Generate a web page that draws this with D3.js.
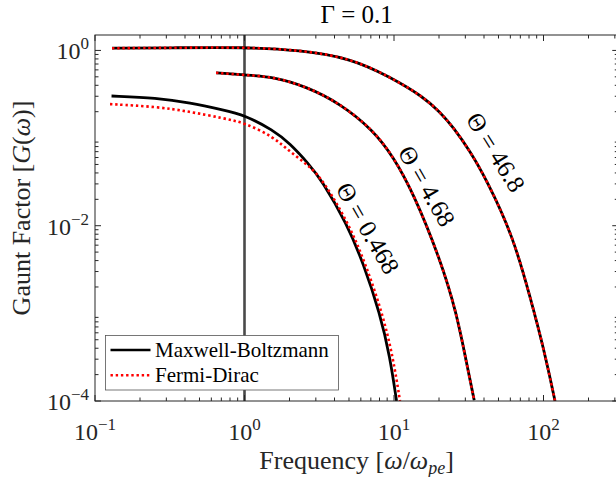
<!DOCTYPE html>
<html>
<head>
<meta charset="utf-8">
<script src="https://cdn.jsdelivr.net/npm/d3@7"></script>
<style>
  body { margin: 0; background: #fff; }
  svg { display: block; font-family: "Liberation Serif", "DejaVu Serif", serif; }
</style>
</head>
<body>
<div id="chart"></div>
<script>
// values (frequency in units of w_pe, Gaunt factor)
var freq_0468_mb  = [0.129, 0.259, 0.432, 0.721, 1.0, 1.56, 2.01, 2.67, 3.28, 4.83, 6.24, 8.06, 9.40, 10.4];
var gaunt_0468_mb = [0.302, 0.288, 0.253, 0.209, 0.183, 0.123, 0.0869, 0.0514, 0.0332, 0.0106, 0.00371, 0.000997, 0.000319, 0.0001];
var freq_0468_fd  = [0.126, 0.259, 0.432, 0.721, 1.0, 1.56, 2.01, 2.67, 3.35, 4.97, 6.44, 8.37, 9.84, 10.97];
var gaunt_0468_fd = [0.244, 0.228, 0.200, 0.168, 0.150, 0.1035, 0.0698, 0.0492, 0.0332, 0.0106, 0.00371, 0.000997, 0.000319, 0.0001];
var freq_468  = [0.645, 1.0, 1.56, 2.61, 4.35, 7.27, 9.90, 13.5, 20.3, 26.3, 30.6, 34.4];
var gaunt_468 = [0.556, 0.524, 0.501, 0.385, 0.249, 0.123, 0.0612, 0.0234, 0.00423, 0.000997, 0.000268, 0.000102];
var freq_4680  = [0.130, 0.318, 1.0, 2.35, 5.08, 9.40, 15.7, 20.3, 24.8, 32.2, 41.7, 62.8, 81.3, 99.8, 119.4];
var gaunt_4680 = [1.06, 1.07, 1.09, 1.01, 0.82, 0.50, 0.296, 0.198, 0.134, 0.0713, 0.0332, 0.00747, 0.00154, 0.000415, 0.0001];

var thetaText = ["0.468", "4.68", "46.8"];
var thetaLabelFreq = [6.70, 16.6, 48.1];
var thetaLabelGaunt = [0.0094, 0.0284, 0.0693];

var xTickVals = [0.1, 1, 10, 100];
var xTickExp = ["\u22121", "0", "1", "2"];
var yTickVals = [1e-4, 1e-2, 1];
var yTickExp = ["\u22124", "\u22122", "0"];
var legendNames = ["Maxwell-Boltzmann", "Fermi-Dirac"];

var width = 616, height = 477;
var pLeft = 95, pTop = 35, pBottom = 401, pRight = 618.25;

var svg = d3.select("#chart").append("svg")
  .attr("width", width).attr("height", height);

var x = d3.scaleLog().domain([0.1, Math.pow(10, 2.5)]).range([pLeft, pRight]);
var y = d3.scaleLog().domain([1e-4, 1.5]).range([pBottom, pTop]);

svg.append("clipPath").attr("id", "clip")
  .append("rect").attr("x", pLeft).attr("y", pTop)
  .attr("width", pRight - pLeft).attr("height", pBottom - pTop);

var plot = svg.append("g").attr("clip-path", "url(#clip)");

// vertical line at w = w_pe
plot.append("line")
  .attr("x1", x(1)).attr("x2", x(1))
  .attr("y1", pTop).attr("y2", pBottom)
  .attr("stroke", "#4a4a4a").attr("stroke-width", 2.6);

var line = d3.line()
  .x(function(d) { return x(d[0]); })
  .y(function(d) { return y(d[1]); })
  .curve(d3.curveBasis);

function pairs(f, g) { return f.map(function(v, i) { return [v, g[i]]; }); }

var mbCurves = [pairs(freq_0468_mb, gaunt_0468_mb), pairs(freq_468, gaunt_468), pairs(freq_4680, gaunt_4680)];
var fdCurves = [pairs(freq_0468_fd, gaunt_0468_fd), pairs(freq_468, gaunt_468), pairs(freq_4680, gaunt_4680)];

plot.selectAll("path.mb").data(mbCurves).enter().append("path")
  .attr("class", "mb")
  .attr("d", line)
  .attr("fill", "none").attr("stroke", "#000").attr("stroke-width", 2.8);

plot.selectAll("path.fd").data(fdCurves).enter().append("path")
  .attr("class", "fd")
  .attr("d", line)
  .attr("fill", "none").attr("stroke", "#ff0000").attr("stroke-width", 2.6)
  .attr("stroke-dasharray", "2.4,2.8");

// theta labels along the curves
thetaText.forEach(function(t, i) {
  var px = x(thetaLabelFreq[i]), py = y(thetaLabelGaunt[i]);
  svg.append("text")
    .attr("transform", "translate(" + px + "," + py + ") rotate(" + (i == 2 ? 58 : 60) + ")")
    .attr("text-anchor", "middle").attr("dy", "0.35em")
    .attr("font-size", 25).attr("fill", "#000")
    .text("\u0398 = " + t);
});

// axes box
var axisColor = "#262626";
svg.append("rect")
  .attr("x", pLeft).attr("y", pTop)
  .attr("width", pRight - pLeft).attr("height", pBottom - pTop)
  .attr("fill", "none").attr("stroke", axisColor).attr("stroke-width", 1);

// ticks (inward, both sides)
var xMinor = [], yMinor = [];
for (var e = -1; e <= 2; e++) for (var k = 2; k <= 9; k++) xMinor.push(k * Math.pow(10, e));
for (var e2 = -4; e2 <= 0; e2++) for (var k2 = 2; k2 <= 9; k2++) yMinor.push(k2 * Math.pow(10, e2));
xMinor = xMinor.filter(function(v) { return v < 316; });
yMinor = yMinor.filter(function(v) { return v < 1.5; });

var ticks = svg.append("g").attr("stroke", axisColor).attr("stroke-width", 1);
function xTick(v, len) {
  ticks.append("line").attr("x1", x(v)).attr("x2", x(v)).attr("y1", pBottom).attr("y2", pBottom - len);
  ticks.append("line").attr("x1", x(v)).attr("x2", x(v)).attr("y1", pTop).attr("y2", pTop + len);
}
function yTick(v, len) {
  ticks.append("line").attr("y1", y(v)).attr("y2", y(v)).attr("x1", pLeft).attr("x2", pLeft + len);
  ticks.append("line").attr("y1", y(v)).attr("y2", y(v)).attr("x1", pRight).attr("x2", pRight - len);
}
xTickVals.forEach(function(v) { xTick(v, 6); });
xMinor.forEach(function(v) { xTick(v, 3.5); });
yTickVals.forEach(function(v) { yTick(v, 6); });
yMinor.forEach(function(v) { yTick(v, 3.5); });

// tick labels
xTickVals.forEach(function(v, i) {
  var t = svg.append("text")
    .attr("x", x(v)).attr("y", 440)
    .attr("text-anchor", "middle").attr("font-size", 24).attr("fill", axisColor);
  t.append("tspan").text("10");
  t.append("tspan").attr("dy", -10).attr("font-size", 17).text(xTickExp[i]);
});
yTickVals.forEach(function(v, i) {
  var t = svg.append("text")
    .attr("x", 89).attr("y", y(v) + 9)
    .attr("text-anchor", "end").attr("font-size", 24).attr("fill", axisColor);
  t.append("tspan").text("10");
  t.append("tspan").attr("dy", -10).attr("font-size", 17).text(yTickExp[i]);
});

// axis labels and title
var xl = svg.append("text")
  .attr("x", (pLeft + pRight) / 2).attr("y", 469)
  .attr("text-anchor", "middle").attr("font-size", 26).attr("fill", axisColor);
xl.append("tspan").text("Frequency [");
xl.append("tspan").attr("font-style", "italic").text("\u03c9");
xl.append("tspan").text("/");
xl.append("tspan").attr("font-style", "italic").text("\u03c9");
xl.append("tspan").attr("font-style", "italic").attr("font-size", 18).attr("dy", 5).text("pe");
xl.append("tspan").attr("dy", -5).text("]");

var yl = svg.append("text")
  .attr("transform", "translate(30,208) rotate(-90)")
  .attr("text-anchor", "middle").attr("font-size", 26).attr("fill", axisColor);
yl.append("tspan").text("Gaunt Factor [");
yl.append("tspan").attr("font-style", "italic").text("G");
yl.append("tspan").text("(");
yl.append("tspan").attr("font-style", "italic").text("\u03c9");
yl.append("tspan").text(")]");

svg.append("text")
  .attr("x", (pLeft + pRight) / 2).attr("y", 23)
  .attr("text-anchor", "middle").attr("font-size", 25).attr("fill", "#000")
  .text("\u0393 = 0.1");

// legend
var lg = svg.append("g");
lg.append("rect")
  .attr("x", 105.5).attr("y", 335.5).attr("width", 233).attr("height", 54.5)
  .attr("fill", "#fff").attr("stroke", "#555").attr("stroke-width", 0.8);
legendNames.forEach(function(name, i) {
  var ly = 350 + i * 25.3;
  var ln = lg.append("line")
    .attr("x1", 110.5).attr("x2", 150.5).attr("y1", ly).attr("y2", ly)
    .attr("stroke-width", 2.6);
  if (i == 0) ln.attr("stroke", "#000");
  else ln.attr("stroke", "#ff0000").attr("stroke-dasharray", "2.4,2.8");
  lg.append("text")
    .attr("x", 155).attr("y", ly).attr("dy", "0.33em")
    .attr("font-size", 21).attr("fill", "#000")
    .text(name);
});
</script>
</body>
</html>
